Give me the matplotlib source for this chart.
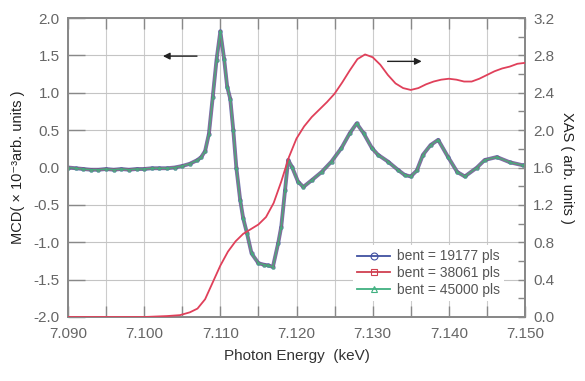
import matplotlib
matplotlib.use("Agg")
import matplotlib.pyplot as plt
from matplotlib.ticker import MultipleLocator, FormatStrFormatter
from matplotlib.lines import Line2D

plt.rcParams['font.family'] = ['Liberation Sans', 'DejaVu Sans']

# ---- data ----
mcd_e = [7.090, 7.091, 7.092, 7.093, 7.094, 7.095, 7.096, 7.097, 7.098, 7.099,
         7.100, 7.101, 7.102, 7.103, 7.104, 7.105, 7.106, 7.107, 7.1075, 7.108,
         7.1085, 7.109, 7.1095, 7.110, 7.1105, 7.1109, 7.1113, 7.1117, 7.1121,
         7.1126, 7.1130, 7.1135, 7.1141, 7.1150, 7.1157, 7.1163, 7.1169, 7.1176,
         7.1180, 7.1185, 7.1189, 7.1194, 7.1202, 7.1209, 7.1220, 7.1233, 7.1246,
         7.1259, 7.1270, 7.1279, 7.1288, 7.1299, 7.1307, 7.1320, 7.1333, 7.1342,
         7.1350, 7.1358, 7.1366, 7.1376, 7.1386, 7.1399, 7.1411, 7.1421, 7.1437,
         7.1447, 7.1463, 7.1480, 7.1497, 7.1500]
mcd_v = [0.00, -0.01, -0.02, -0.03, -0.03, -0.02, -0.03, -0.02, -0.03, -0.02,
         -0.02, -0.01, -0.01, -0.01, 0.00, 0.02, 0.05, 0.10, 0.14, 0.22,
         0.45, 0.94, 1.44, 1.82, 1.45, 1.08, 0.92, 0.50, 0.00,
         -0.43, -0.68, -0.88, -1.15, -1.28, -1.30, -1.31, -1.33, -1.01,
         -0.79, -0.30, 0.10, 0.01, -0.19, -0.26, -0.17, -0.06, 0.08,
         0.26, 0.46, 0.59, 0.46, 0.26, 0.17, 0.08, -0.03, -0.10,
         -0.12, -0.04, 0.17, 0.30, 0.37, 0.14, -0.06, -0.12, 0.00,
         0.10, 0.14, 0.07, 0.03, 0.03]

xas_e = [7.090, 7.095, 7.100, 7.103, 7.1047, 7.106, 7.107, 7.108, 7.109, 7.110,
         7.111, 7.112, 7.113, 7.114, 7.115, 7.116, 7.117, 7.118, 7.119, 7.120,
         7.121, 7.122, 7.123, 7.124, 7.125, 7.126, 7.127, 7.128, 7.129, 7.130,
         7.131, 7.132, 7.133, 7.134, 7.135, 7.136, 7.137, 7.138, 7.139, 7.140,
         7.141, 7.142, 7.143, 7.144, 7.145, 7.146, 7.147, 7.148, 7.149, 7.150]
xas_v = [0.00, 0.00, 0.00, 0.01, 0.02, 0.05, 0.09, 0.19, 0.37, 0.55,
         0.70, 0.81, 0.89, 0.94, 0.99, 1.07, 1.22, 1.45, 1.71, 1.91,
         2.04, 2.14, 2.22, 2.30, 2.39, 2.51, 2.64, 2.76, 2.81, 2.78,
         2.70, 2.59, 2.50, 2.45, 2.43, 2.45, 2.49, 2.52, 2.54, 2.55,
         2.54, 2.52, 2.52, 2.55, 2.59, 2.63, 2.66, 2.68, 2.71, 2.72]

labels = ["bent = 19177 pls", "bent = 38061 pls", "bent = 45000 pls"]
series_colors = ['#4050a0', '#d04050', '#40b080']
series_markers = ['o', 's', '^']

# ---- figure ----
fig = plt.figure(figsize=(5.85, 3.81), dpi=100)
ax = fig.add_axes([68/585, 64/381, 457/585, 299/381])
ax2 = ax.twinx()

tick_col = '#666666'
spine_col = '#888888'

ax.plot(mcd_e, mcd_v, color=series_colors[0], lw=2.8, marker='o', ms=2.4,
        mfc='none', mew=0.7, alpha=0.75, zorder=3)
ax.plot(mcd_e, mcd_v, color=series_colors[1], lw=2.0, marker='s', ms=2.0,
        mfc='none', mew=0.7, alpha=0.45, zorder=4)
ax.plot(mcd_e, mcd_v, color=series_colors[2], lw=1.1, marker='^', ms=2.0,
        mfc='none', mew=0.7, alpha=0.9, zorder=5)

ax2.plot(xas_e, xas_v, color='#e0405a', lw=1.3, zorder=3)

ax.set_xlim(7.090, 7.150)
ax.set_ylim(-2.0, 2.0)
ax2.set_ylim(0.0, 3.2)

ax.xaxis.set_major_locator(MultipleLocator(0.010))
ax.xaxis.set_minor_locator(MultipleLocator(0.005))
ax.xaxis.set_major_formatter(FormatStrFormatter('%.3f'))
ax.yaxis.set_major_locator(MultipleLocator(0.5))
ax.yaxis.set_major_formatter(FormatStrFormatter('%.1f'))
ax2.yaxis.set_major_locator(MultipleLocator(0.4))
ax2.yaxis.set_minor_locator(MultipleLocator(0.2))
ax2.yaxis.set_major_formatter(FormatStrFormatter('%.1f'))

ax.grid(True, which='both', axis='x', color='#cccccc', lw=0.8, zorder=0)
ax.grid(True, which='major', axis='y', color='#c4c4c4', lw=0.8, zorder=0)
ax.set_axisbelow(True)

ax.tick_params(axis='x', which='both', direction='in', top=True, bottom=True,
               length=8, width=1, color=spine_col, labelsize=11,
               labelcolor=tick_col, pad=7)
ax.tick_params(axis='y', which='major', direction='in', left=True, right=False,
               length=12, width=1, color=spine_col, labelsize=11,
               labelcolor=tick_col, pad=6)
ax2.tick_params(axis='y', which='both', direction='in', right=True,
                length=5, width=1, color=spine_col, labelsize=11,
                labelcolor=tick_col, pad=6)

for a in (ax, ax2):
    for s in a.spines.values():
        s.set_color(spine_col)
        s.set_linewidth(1.3)

ax.set_xlabel('Photon Energy  (keV)', fontsize=11, color='#333333', labelpad=6)
ax.set_ylabel('MCD( × 10⁻³arb. units )', fontsize=10.5, color='#222222', labelpad=6)
ax2.set_ylabel('XAS ( arb. units )', fontsize=10.5, color='#222222',
               rotation=-90, labelpad=14)

# direction arrows
ax.annotate('', xy=(7.1021, 1.49), xytext=(7.1073, 1.49),
            arrowprops=dict(arrowstyle='-|>', color='#222222', lw=1.0,
                            mutation_scale=10), zorder=6)
ax.annotate('', xy=(7.1368, 1.42), xytext=(7.1316, 1.42),
            arrowprops=dict(arrowstyle='-|>', color='#222222', lw=1.0,
                            mutation_scale=10), zorder=6)

handles = [Line2D([], [], color=c, lw=1.3, marker=m, ms=5, mfc='none', mew=0.8)
           for c, m in zip(series_colors, series_markers)]
leg = ax.legend(handles, labels, loc='lower right',
                bbox_to_anchor=(0.97, 0.03), fontsize=10, frameon=True,
                facecolor='white', edgecolor='none', framealpha=1,
                handlelength=2.4, labelspacing=0.2, borderpad=0.3,
                handletextpad=0.5)
for t in leg.get_texts():
    t.set_color('#555555')
leg.set_zorder(10)

fig.savefig('out.png', dpi=100)
